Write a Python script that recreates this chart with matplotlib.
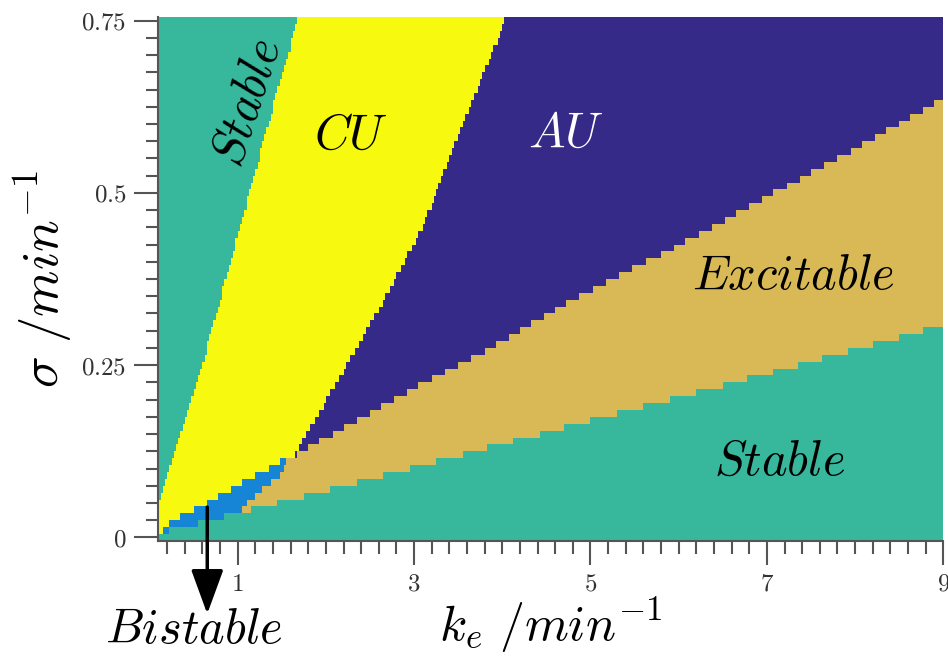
import numpy as np
import matplotlib
matplotlib.use('Agg')
import matplotlib.pyplot as plt
from matplotlib.colors import ListedColormap

plt.rcParams['mathtext.fontset'] = 'cm'
plt.rcParams['font.family'] = 'serif'
plt.rcParams['font.serif'] = ['DejaVu Serif']

# regime boundaries
# Stable (left) / CU : k_e as a function of sigma
stab_left_sig = [0.05, 0.058, 0.17, 0.296, 0.489, 0.635, 0.755]
stab_left_ke = [0.10, 0.13, 0.40, 0.70, 1.11, 1.42, 1.69]

# CU / AU : k_e as a function of sigma
au_left_sig = [0.115, 0.235, 0.344, 0.453, 0.562, 0.755]
au_left_ke = [1.62, 2.17, 2.66, 3.11, 3.43, 4.05]

# top of Bistable strip (below CU) : sigma as a function of k_e
bis_top_ke = [0.16, 0.44, 0.87, 1.28, 1.57, 1.62]
bis_top_sig = [0.016, 0.036, 0.066, 0.096, 0.116, 0.116]

# top of Excitable (below Bistable, then below AU) : sigma as a function of k_e
exc_top_ke = [1.04, 1.15, 1.25, 1.32, 1.45, 1.50, 1.57, 1.83, 2.96, 3.98, 4.92, 5.90, 8.28, 9.0]
exc_top_sig = [0.045, 0.055, 0.065, 0.075, 0.085, 0.095, 0.112, 0.133, 0.213, 0.283, 0.354, 0.417, 0.584, 0.637]

# top of Stable (bottom) : sigma as a function of k_e
stab_low_ke = [0.1, 1.04, 3.41, 3.85, 6.58, 7.69, 8.87, 9.0]
stab_low_sig = [0.006, 0.036, 0.115, 0.131, 0.223, 0.262, 0.303, 0.307]

# 0 AU, 1 Bistable, 2 Stable, 3 Excitable, 4 CU
colors = ['#352a87', '#1685d5', '#37b89d', '#d8b955', '#f7f90e']

# parameter grid of the scan
ke_edges = np.linspace(0.1, 9.0, 357)
sig_edges = np.linspace(-0.005, 0.755, 77)
ke_c = 0.5 * (ke_edges[1:] + ke_edges[:-1])
sig_c = 0.5 * (sig_edges[1:] + sig_edges[:-1])
K, S = np.meshgrid(ke_c, sig_c)

lab = np.zeros(K.shape)
lab[K < np.interp(S, au_left_sig, au_left_ke)] = 4
lab[K < np.interp(S, stab_left_sig, stab_left_ke)] = 2
lab[S < np.interp(K, bis_top_ke, bis_top_sig, left=-1, right=-1)] = 1
lab[S < np.interp(K, exc_top_ke, exc_top_sig, left=-1)] = 3
lab[S < np.interp(K, stab_low_ke, stab_low_sig)] = 2

fig = plt.figure(figsize=(9.48, 6.62), dpi=100)
ax = fig.add_axes([0.167, 0.183, 0.828, 0.791])
ax.pcolormesh(ke_edges, sig_edges, lab, cmap=ListedColormap(colors),
              vmin=-0.5, vmax=4.5, shading='flat')

ax.set_xlim(0.1, 9.0)
ax.set_ylim(-0.005, 0.755)
ax.set_xticks([1, 3, 5, 7, 9])
ax.set_xticklabels(['$1$', '$3$', '$5$', '$7$', '$9$'])
ax.set_xticks(np.arange(0.2, 9.0, 0.2), minor=True)
ax.set_yticks([0, 0.25, 0.5, 0.75])
ax.set_yticklabels(['$0$', '$0.25$', '$0.5$', '$0.75$'])
ax.set_yticks(np.arange(0, 0.76, 0.025), minor=True)

grey = '#555555'
ax.tick_params(which='major', direction='out', length=17, width=1.5,
               color=grey, labelcolor='#333333', labelsize=18, pad=6)
ax.tick_params(which='minor', direction='out', length=9, width=1.5, color=grey)
for s in ['top', 'right']:
    ax.spines[s].set_visible(False)
for s in ['left', 'bottom']:
    ax.spines[s].set_color(grey)
    ax.spines[s].set_linewidth(1.5)

ax.set_xlabel(r'$k_e\ /min^{-1}$', fontsize=36, labelpad=0)
ax.set_ylabel(r'$\sigma\ /min^{-1}$', fontsize=38, labelpad=5)

fs = 35
ax.text(1.11, 0.632, r'$Stable$', fontsize=fs, rotation=72, ha='center', va='center')
ax.text(2.28, 0.584, r'$CU$', fontsize=fs, ha='center', va='center')
ax.text(4.72, 0.587, r'$AU$', fontsize=fs, ha='center', va='center', color='white')
ax.text(7.30, 0.380, r'$Excitable$', fontsize=fs, ha='center', va='center')
ax.text(7.15, 0.111, r'$Stable$', fontsize=fs, ha='center', va='center')
ax.text(0.506, -0.133, r'$Bistable$', fontsize=fs, ha='center', va='center')

ax.annotate('', xy=(0.655, -0.111), xytext=(0.655, 0.044),
            arrowprops=dict(arrowstyle='-|>,head_length=1.37,head_width=0.5',
                            mutation_scale=20, lw=2.5, color='k',
                            shrinkA=0, shrinkB=0),
            annotation_clip=False)

fig.savefig('out.png', dpi=100)
